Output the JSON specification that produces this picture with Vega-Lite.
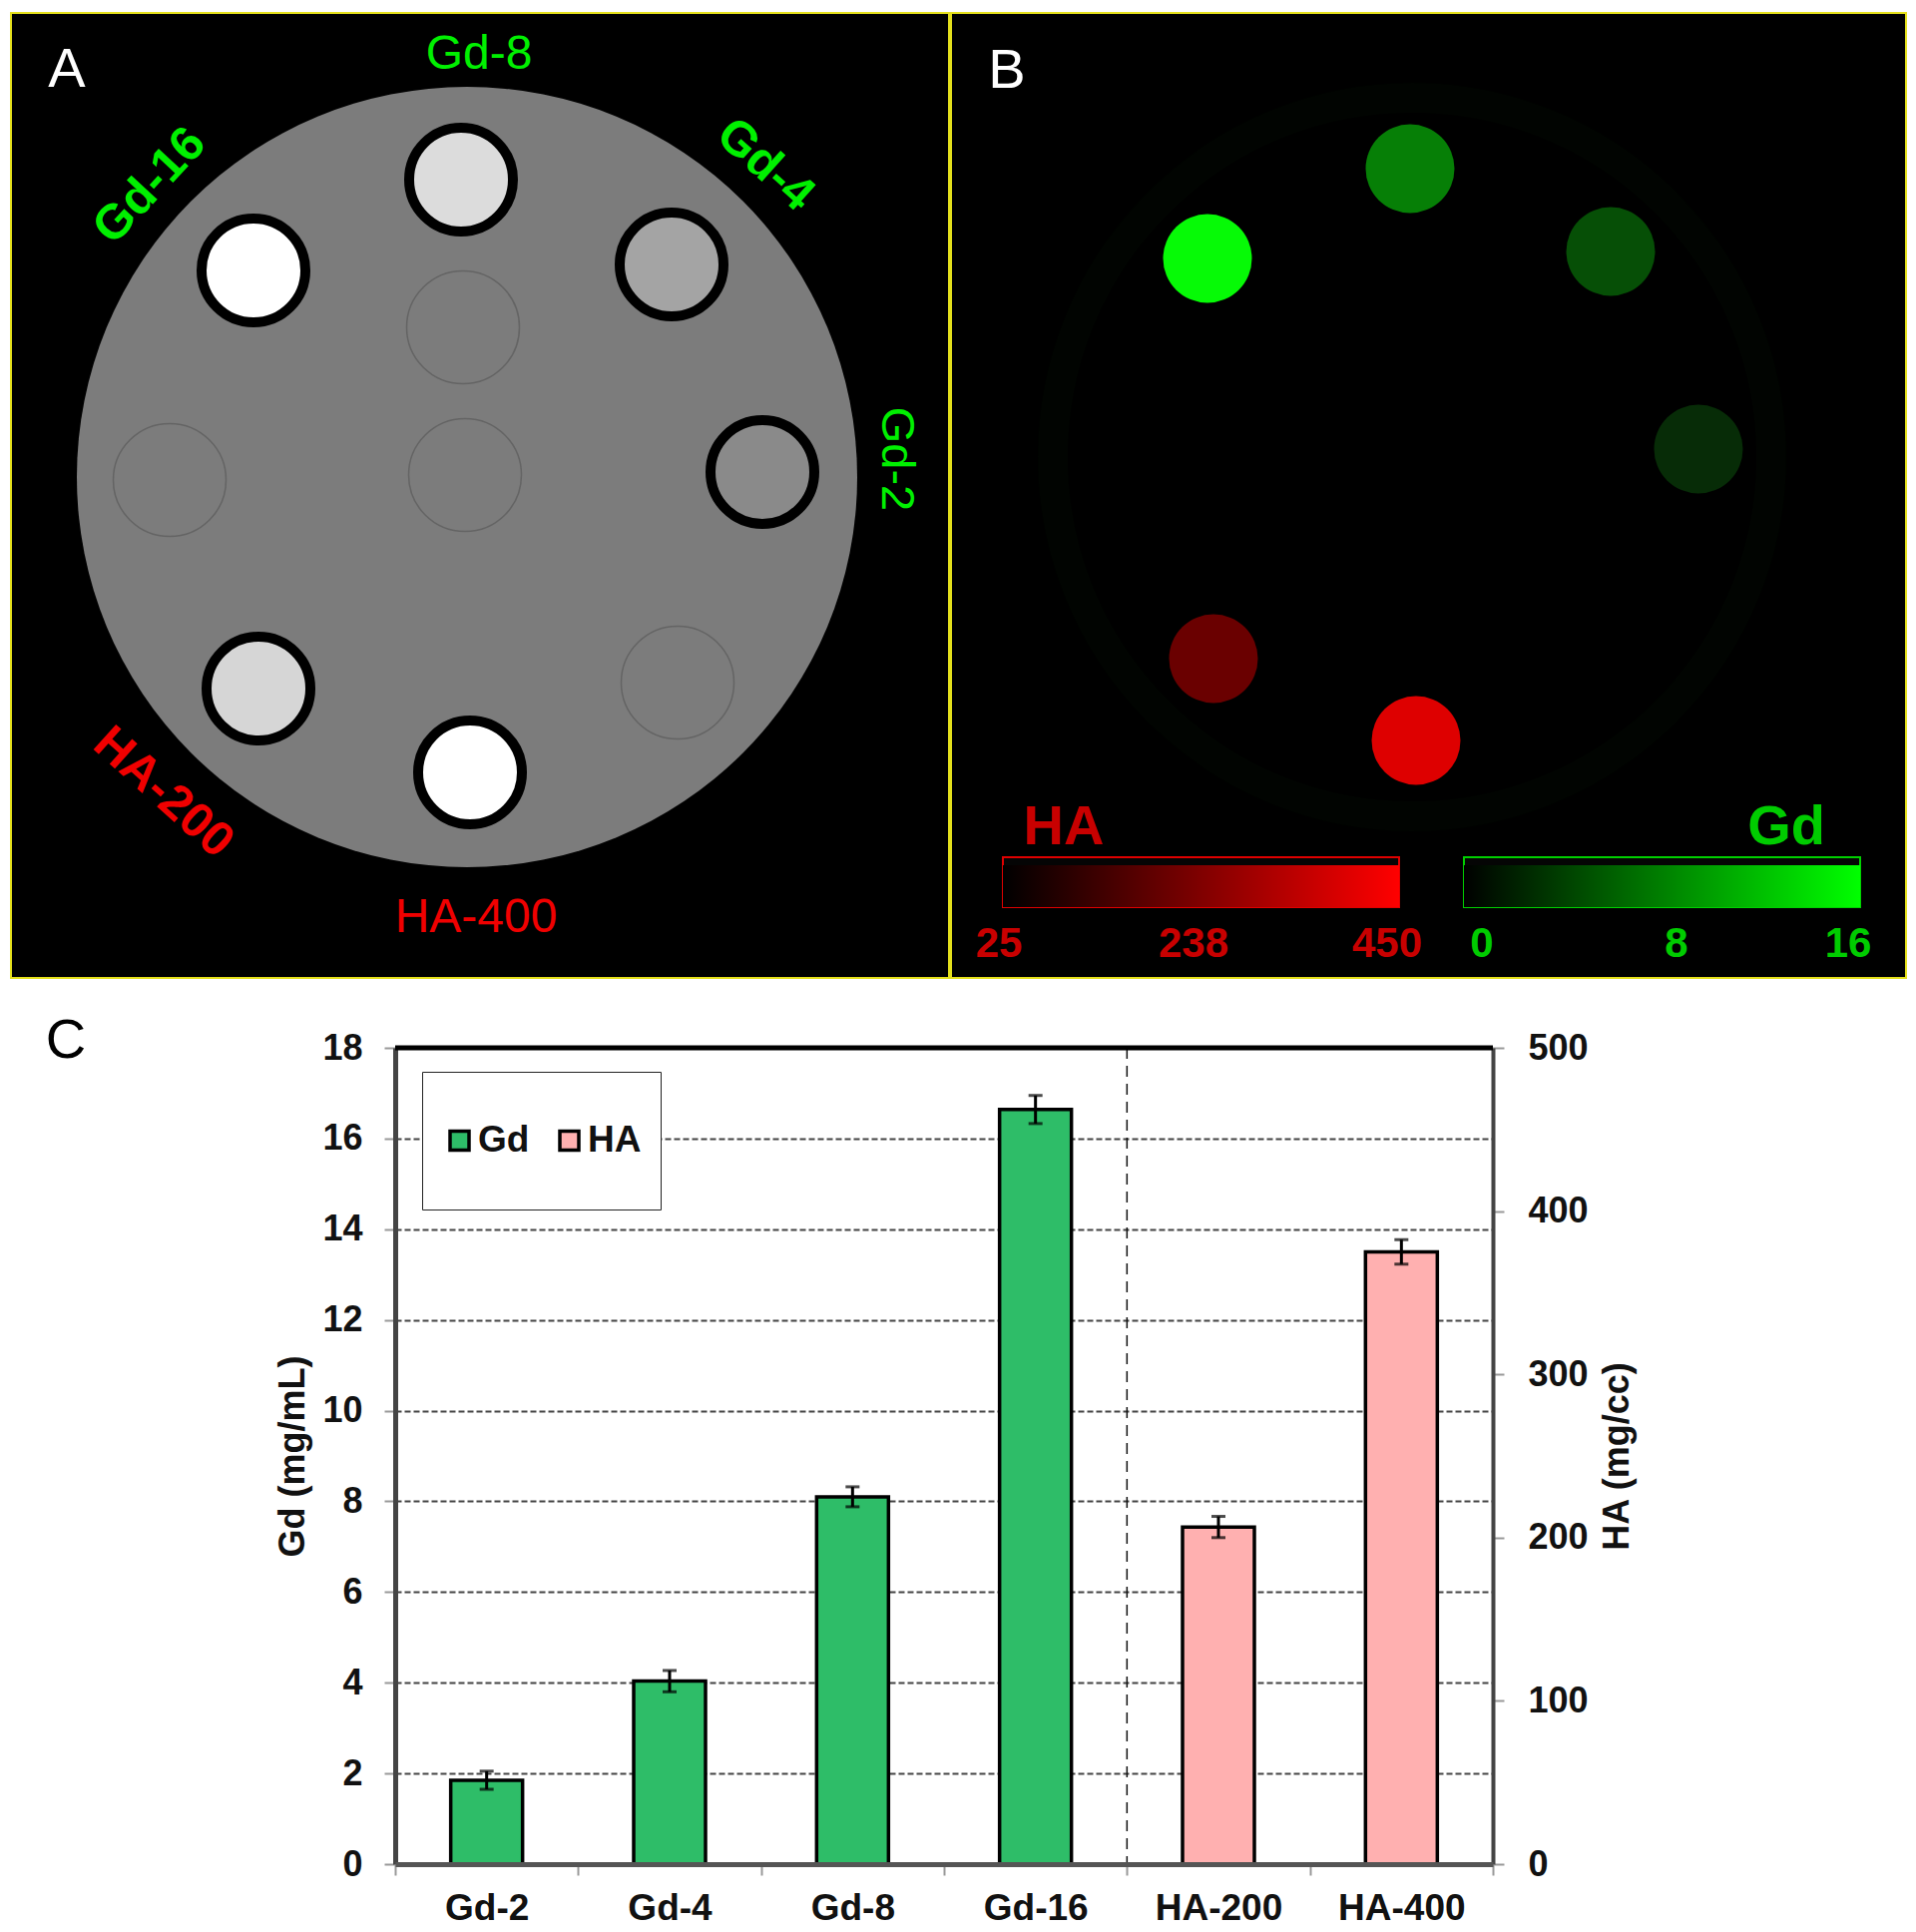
{
"$schema":"https://vega.github.io/schema/vega-lite/v6.json",
"padding":{"left":10,"top":12,"right":0,"bottom":0},
"background":"white",
"spacing":34,
"resolve":{"scale":{"color":"independent","fill":"independent","stroke":"independent"},"legend":{"color":"independent","fill":"independent","stroke":"independent"}},
"config":{"font":"Liberation Sans","view":{"stroke":null}},
"datasets":{
"vialsA":[
{"vial":"Gd-16","x":253,"y":270},{"vial":"Gd-8","x":461,"y":179},{"vial":"Gd-4","x":672,"y":264},{"vial":"Gd-2","x":763,"y":472},{"vial":"HA-200","x":258,"y":689},{"vial":"HA-400","x":470,"y":773}],
"waterA":[{"vial":"W1","x":463,"y":327},{"vial":"W2","x":169,"y":480},{"vial":"W3","x":465,"y":475},{"vial":"W4","x":678,"y":683}],
"discA":[{"x":467,"y":477}],
"textA":[{"label":"Gd-8","x":479,"y":54,"group":"Gd"},{"label":"HA-400","x":476,"y":919,"group":"HA"}],
"panelTags":[{"label":"A","x":66,"y":69},{"label":"B","x":1009,"y":70},{"label":"C","x":65,"y":1042}],
"mapsB":[{"vial":"Gd-16","x":1210,"y":258},{"vial":"Gd-8","x":1413,"y":168},{"vial":"Gd-4","x":1614,"y":251},{"vial":"Gd-2","x":1702,"y":449},{"vial":"HA-200","x":1216,"y":659},{"vial":"HA-400","x":1419,"y":741}],
"bars":[{"bar":"HA","start":1005,"end":1402,"top":858,"gradTop":866,"bottom":908},{"bar":"Gd","start":1467,"end":1864,"top":858,"gradTop":866,"bottom":908}],
"barTicks":[{"label":"25","x":1001,"y":945,"group":"HA"},{"label":"238","x":1196,"y":945,"group":"HA"},{"label":"450","x":1390,"y":945,"group":"HA"},{"label":"0","x":1485,"y":945,"group":"Gd"},{"label":"8","x":1680,"y":945,"group":"Gd"},{"label":"16","x":1852,"y":945,"group":"Gd"}],
"measured":[
{"phantom":"Gd-2","agent":"Gd","value":1.85,"low":1.65,"high":2.05},
{"phantom":"Gd-4","agent":"Gd","value":4.04,"low":3.8,"high":4.27},
{"phantom":"Gd-8","agent":"Gd","value":8.1,"low":7.88,"high":8.32},
{"phantom":"Gd-16","agent":"Gd","value":16.64,"low":16.33,"high":16.95},
{"phantom":"HA-200","agent":"HA","value":206.5,"low":200,"high":213},
{"phantom":"HA-400","agent":"HA","value":375,"low":367.5,"high":382.5}]
},
"vconcat":[
{"resolve":{"scale":{"color":"independent","fill":"independent","stroke":"independent"}},"hconcat":[
{"width":940,"height":967,"view":{"fill":"#000000","stroke":"#e4e01c","strokeWidth":2},
"encoding":{"x":{"field":"x","type":"quantitative","scale":{"domain":[10,950],"nice":false,"zero":false},"axis":null},"y":{"field":"y","type":"quantitative","scale":{"domain":[979,12],"nice":false,"zero":false},"axis":null}},
"layer":[
{"data":{"name":"discA"},"mark":{"type":"circle","size":611524,"color":"#7c7c7c","opacity":1}},
{"data":{"name":"waterA"},"mark":{"type":"point","shape":"circle","size":12769,"stroke":"#646464","strokeWidth":1.5,"fill":null,"opacity":1}},
{"data":{"name":"vialsA"},"mark":{"type":"circle","size":10816,"stroke":"#000000","strokeWidth":10,"opacity":1},
"encoding":{"fill":{"field":"vial","type":"nominal","legend":null,"scale":{"domain":["Gd-16","Gd-8","Gd-4","Gd-2","HA-200","HA-400"],"range":["#ffffff","#dcdcdc","#a4a4a4","#8a8a8a","#d6d6d6","#ffffff"]}}}},
{"data":{"name":"textA"},"mark":{"type":"text","fontSize":48,"baseline":"middle"},
"encoding":{"text":{"field":"label"},
"color":{"field":"group","type":"nominal","legend":null,"scale":{"domain":["Gd","HA"],"range":["#00f000","#f00000"]}}}},
{"data":{"values":[{"label":"Gd-16","x":149,"y":185}]},"mark":{"type":"text","fontSize":49,"fontWeight":"bold","baseline":"middle","angle":-47,"color":"#00f000"},
"encoding":{"text":{"field":"label"}}},
{"data":{"values":[{"label":"Gd-4","x":766,"y":164}]},"mark":{"type":"text","fontSize":49,"fontWeight":"bold","baseline":"middle","angle":42,"color":"#00f000"},
"encoding":{"text":{"field":"label"}}},
{"data":{"values":[{"label":"Gd-2","x":897,"y":459}]},"mark":{"type":"text","fontSize":47,"baseline":"middle","angle":90,"color":"#00f000"},
"encoding":{"text":{"field":"label"}}},
{"data":{"values":[{"label":"HA-200","x":163,"y":793}]},"mark":{"type":"text","fontSize":49,"fontWeight":"bold","baseline":"middle","angle":42,"color":"#f00000"},
"encoding":{"text":{"field":"label"}}},
{"data":{"name":"panelTags"},"transform":[{"filter":"datum.label==='A'"}],"mark":{"type":"text","fontSize":56,"baseline":"middle","color":"#ffffff"},
"encoding":{"text":{"field":"label"}}}
]},
{"width":957,"height":967,"view":{"fill":"#000000","stroke":"#e4e01c","strokeWidth":2},
"encoding":{"x":{"field":"x","type":"quantitative","scale":{"domain":[953,1910],"nice":false,"zero":false},"axis":null},"y":{"field":"y","type":"quantitative","scale":{"domain":[979,12],"nice":false,"zero":false},"axis":null}},
"layer":[
{"data":{"values":[{"x":1415,"y":457}]},"mark":{"type":"point","shape":"circle","size":518400,"stroke":"#010401","strokeWidth":30,"fill":null,"opacity":1}},
{"data":{"name":"mapsB"},"mark":{"type":"circle","size":7921,"opacity":1},
"encoding":{"fill":{"field":"vial","type":"nominal","legend":null,"scale":{"domain":["Gd-16","Gd-8","Gd-4","Gd-2","HA-200","HA-400"],"range":["#06fa06","#067f06","#064f06","#072c07","#6a0000","#de0000"]}}}},
{"data":{"name":"bars"},"mark":{"type":"rect","fill":"#050505","strokeWidth":2},
"encoding":{"x":{"field":"start","type":"quantitative"},"x2":{"field":"end"},"y":{"field":"top","type":"quantitative"},"y2":{"field":"bottom"},
"stroke":{"field":"bar","type":"nominal","legend":null,"scale":{"domain":["HA","Gd"],"range":["#e00000","#00d000"]}}}},
{"data":{"name":"bars"},"transform":[{"filter":"datum.bar==='HA'"}],"mark":{"type":"rect","color":{"gradient":"linear","x1":0,"x2":1,"y1":0,"y2":0,"stops":[{"offset":0,"color":"#000000"},{"offset":1,"color":"#ff0000"}]}},
"encoding":{"x":{"field":"start","type":"quantitative"},"x2":{"field":"end"},"y":{"field":"gradTop","type":"quantitative"},"y2":{"field":"bottom"}}},
{"data":{"name":"bars"},"transform":[{"filter":"datum.bar==='Gd'"}],"mark":{"type":"rect","color":{"gradient":"linear","x1":0,"x2":1,"y1":0,"y2":0,"stops":[{"offset":0,"color":"#000000"},{"offset":1,"color":"#00ff00"}]}},
"encoding":{"x":{"field":"start","type":"quantitative"},"x2":{"field":"end"},"y":{"field":"gradTop","type":"quantitative"},"y2":{"field":"bottom"}}},
{"data":{"name":"barTicks"},"mark":{"type":"text","fontSize":42,"fontWeight":"bold","baseline":"middle"},
"encoding":{"text":{"field":"label"},
"color":{"field":"group","type":"nominal","legend":null,"scale":{"domain":["HA","Gd"],"range":["#c80000","#00cc00"]}}}},
{"data":{"values":[{"label":"HA","x":1066,"y":828,"group":"HA"},{"label":"Gd","x":1790,"y":828,"group":"Gd"}]},"mark":{"type":"text","fontSize":56,"fontWeight":"bold","baseline":"middle"},
"encoding":{"text":{"field":"label"},
"color":{"field":"group","type":"nominal","legend":null,"scale":{"domain":["HA","Gd"],"range":["#c80000","#00cc00"]}}}},
{"data":{"name":"panelTags"},"transform":[{"filter":"datum.label==='B'"}],"mark":{"type":"text","fontSize":56,"baseline":"middle","color":"#ffffff"},
"encoding":{"text":{"field":"label"}}}
]}
],"spacing":0},
{"resolve":{"scale":{"color":"independent"},"legend":{"color":"independent"}},"hconcat":[
{"width":264,"height":818,
"data":{"name":"panelTags"},"transform":[{"filter":"datum.label==='C'"}],"mark":{"type":"text","fontSize":56,"baseline":"middle","color":"#000000"},
"encoding":{"x":{"field":"x","type":"quantitative","scale":{"domain":[10,274],"nice":false,"zero":false},"axis":null},"y":{"field":"y","type":"quantitative","scale":{"domain":[1867,1049],"nice":false,"zero":false},"axis":null},"text":{"field":"label"}}},
{"width":1100,"height":818,
"data":{"name":"measured"},
"encoding":{"x":{"field":"phantom","type":"nominal","title":null,"scale":{"domain":["Gd-2","Gd-4","Gd-8","Gd-16","HA-200","HA-400"],"paddingInner":0,"paddingOuter":0},
"axis":{"labelAngle":0,"labelFontSize":37,"labelFontWeight":"bold","labelColor":"#111111","labelPadding":15,"tickBand":"extent","tickSize":11,"tickColor":"#999999","tickWidth":2,"domainColor":"#555555","domainWidth":5,"zindex":1}}},
"layer":[
{"layer":[
{"transform":[{"filter":"datum.agent==='Gd'"}],"mark":{"type":"bar","size":72,"stroke":"#000000","strokeWidth":3.5},
"encoding":{"y":{"field":"value","type":"quantitative","scale":{"domain":[0,18]},"title":"Gd (mg/mL)",
"axis":{"orient":"left","values":[0,2,4,6,8,10,12,14,16,18],"labelFontSize":36,"labelFontWeight":"bold","labelColor":"#111111","labelPadding":22,"tickSize":11,"tickColor":"#999999","tickWidth":2,"domainColor":"#444444","domainWidth":5,"grid":true,"gridColor":"#444444","gridDash":[6,3],"gridWidth":2,"titleFontSize":36,"titleFontWeight":"bold","titleColor":"#111111","titlePadding":10}},
"color":{"field":"agent","type":"nominal","scale":{"domain":["Gd","HA"],"range":["#2ebd68","#ffb0b0"]},
"legend":{"orient":"none","legendX":27,"legendY":24,"direction":"horizontal","columns":2,"title":null,"fillColor":"#ffffff","strokeColor":"#222222","padding":19,"symbolType":"square","symbolSize":361,"symbolStrokeColor":"#000000","symbolStrokeWidth":3.5,"labelFontSize":37,"labelFontWeight":"bold","labelColor":"#111111","labelOffset":0,"columnPadding":21,"clipHeight":100}}}},
{"transform":[{"filter":"datum.agent==='Gd'"}],"mark":{"type":"errorbar","thickness":3,"ticks":{"size":14,"thickness":3,"color":"#000000"},"rule":{"color":"#000000"}},
"encoding":{"y":{"field":"low","type":"quantitative","title":"Gd (mg/mL)"},"y2":{"field":"high"}}},
{"data":{"values":[{"phantom":"HA-200"}]},"mark":{"type":"rule","stroke":"#111111","strokeWidth":1.5,"strokeDash":[11,7]},
"encoding":{"x":{"field":"phantom","type":"nominal","bandPosition":0}}},
{"data":{"values":[{"frame":18}]},"mark":{"type":"rule","stroke":"#000000","strokeWidth":5},
"encoding":{"x":{},"y":{"field":"frame","type":"quantitative","title":"Gd (mg/mL)"}}}
]},
{"layer":[
{"transform":[{"filter":"datum.agent==='HA'"}],"mark":{"type":"bar","size":72,"stroke":"#000000","strokeWidth":3.5},
"encoding":{"y":{"field":"value","type":"quantitative","scale":{"domain":[0,500]},"title":"HA (mg/cc)",
"axis":{"orient":"right","values":[0,100,200,300,400,500],"labelFontSize":36,"labelFontWeight":"bold","labelColor":"#111111","labelPadding":24,"tickSize":11,"tickColor":"#999999","tickWidth":2,"domainColor":"#444444","domainWidth":4,"grid":false,"titleFontSize":36,"titleFontWeight":"bold","titleColor":"#111111","titlePadding":12,"titleAngle":270,"titleBaseline":"top"}},
"color":{"field":"agent","type":"nominal"}}},
{"transform":[{"filter":"datum.agent==='HA'"}],"mark":{"type":"errorbar","thickness":3,"ticks":{"size":14,"thickness":3,"color":"#000000"},"rule":{"color":"#000000"}},
"encoding":{"y":{"field":"low","type":"quantitative","title":"HA (mg/cc)"},"y2":{"field":"high"}}}
]}
],
"resolve":{"scale":{"y":"independent"}}}
],"spacing":0}
]}
